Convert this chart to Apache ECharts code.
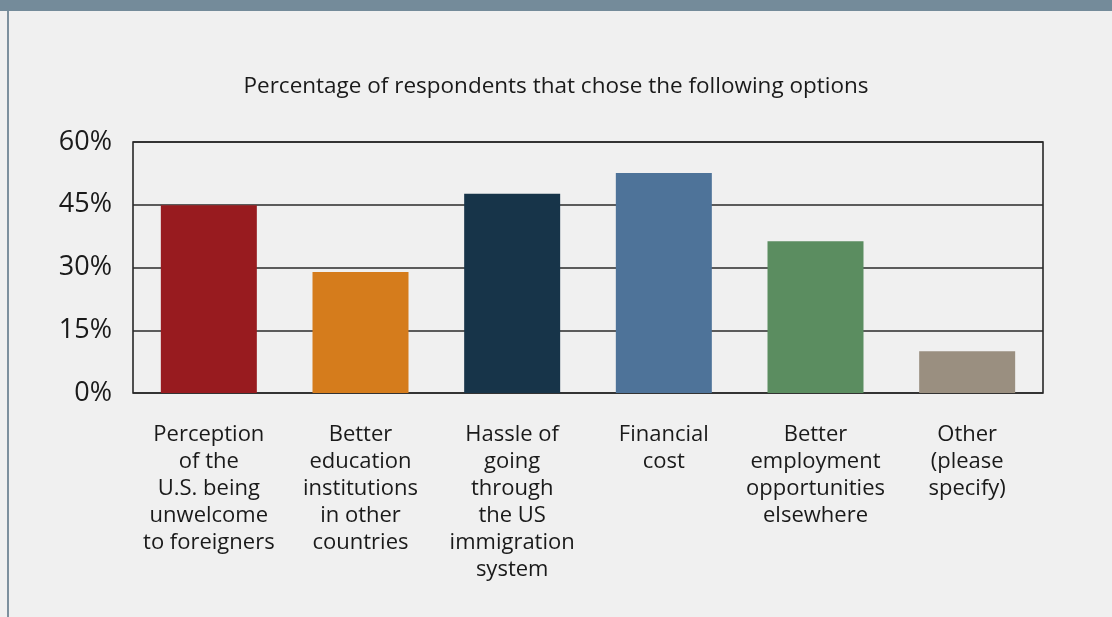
<!DOCTYPE html>
<html>
<head>
<meta charset="utf-8">
<script src="https://cdn.jsdelivr.net/npm/echarts@6/dist/echarts.min.js"></script>
<style>
html,body{margin:0;padding:0;background:#f0f0f0;}
#chart{width:1112px;height:617px;}
</style>
</head>
<body>
<div id="chart"></div>
<script>
var categories = [
  "Perception\nof the\nU.S. being\nunwelcome\nto foreigners",
  "Better\neducation\ninstitutions\nin other\ncountries",
  "Hassle of\ngoing\nthrough\nthe US\nimmigration\nsystem",
  "Financial\ncost",
  "Better\nemployment\nopportunities\nelsewhere",
  "Other\n(please\nspecify)"
];
var values = [44.9, 28.9, 47.6, 52.6, 36.3, 10.0];
var barColors = ["#981b1f", "#d57c1c", "#173449", "#4e7399", "#5b8d60", "#9a8f80"];
var yTicks = [0, 15, 30, 45, 60];
var titleText = "Percentage of respondents that chose the following options";

var FONT = "Open Sans";
var chart = echarts.init(document.getElementById('chart'), null, {renderer: 'canvas'});
chart.setOption({
  backgroundColor: '#f0f0f0',
  animation: false,
  title: {
    text: titleText,
    left: 'center',
    top: 70,
    textStyle: {fontFamily: FONT, fontSize: 22.5, fontWeight: 'normal', color: '#1a1a1a'}
  },
  graphic: [
    {type: 'rect', shape: {x: 0, y: 0, width: 1112, height: 11}, style: {fill: '#748b9a'}},
    {type: 'rect', shape: {x: 7, y: 11, width: 2, height: 606}, style: {fill: '#7d909e'}}
  ],
  grid: {left: 133, right: 69, top: 142, bottom: 224, show: true, borderColor: '#1a1a1a', borderWidth: 1.5, backgroundColor: 'transparent'},
  xAxis: {
    type: 'category',
    data: categories,
    axisTick: {show: false},
    axisLine: {show: false},
    axisLabel: {interval: 0, margin: 28, fontFamily: FONT, fontSize: 22, lineHeight: 27, color: '#1a1a1a', align: 'center', verticalAlign: 'top'}
  },
  yAxis: {
    type: 'value',
    min: 0, max: 60, interval: 15,
    axisLine: {show: false},
    axisTick: {show: false},
    splitLine: {show: true, lineStyle: {color: '#2a2a2a', width: 1.5}},
    axisLabel: {margin: 21, fontFamily: FONT, fontSize: 27, color: '#1a1a1a',
      formatter: function (v) { return yTicks.indexOf(v) >= 0 ? v + '%' : ''; }}
  },
  series: [{
    type: 'bar',
    data: values.map(function (v, i) { return {value: v, itemStyle: {color: barColors[i]}}; }),
    barWidth: 96
  }]
});
</script>
</body>
</html>
